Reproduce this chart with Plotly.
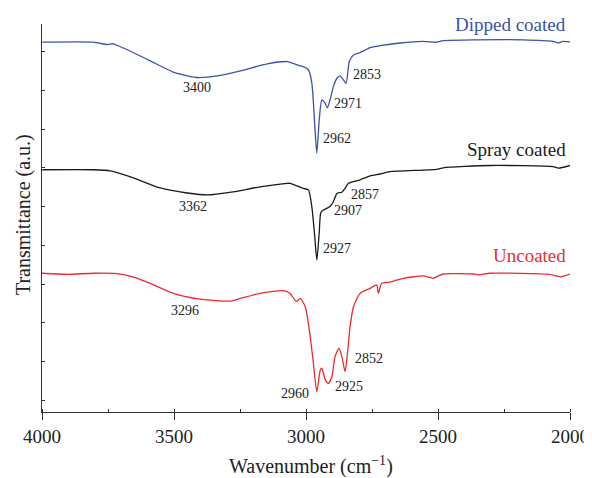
import plotly.graph_objects as go

# ---- data (wavenumber in cm^-1, transmittance in arbitrary units) ----
dip_wn = [3999, 3806, 3753, 3730, 3692, 3590, 3503, 3412, 3336, 3249, 3147, 3071, 3022, 3011,
          2991, 2978, 2965, 2959, 2949, 2940, 2928, 2919, 2909, 2896, 2883, 2871, 2858, 2848,
          2836, 2820, 2795, 2757, 2720, 2644, 2557, 2505, 2480, 2353, 2178, 2064, 2044, 2027, 2000]
dip_t = [92.4, 92.4, 91.8, 92.0, 90.9, 87.6, 84.7, 83.3, 83.7, 85.0, 86.8, 87.4, 86.3, 86.1,
         85.3, 81.9, 69.0, 63.8, 73.1, 77.5, 76.7, 75.5, 77.5, 81.0, 83.1, 83.7, 82.7, 81.8,
         87.4, 89.1, 89.7, 91.0, 91.5, 92.2, 92.6, 92.4, 92.8, 93.0, 93.0, 92.6, 92.2, 92.6, 92.5]

spray_wn = [3999, 3806, 3741, 3654, 3552, 3450, 3374, 3276, 3174, 3071, 3060, 3010, 2991, 2978,
            2968, 2959, 2950, 2944, 2934, 2909, 2896, 2883, 2864, 2852, 2839, 2795, 2757, 2720,
            2682, 2505, 2480, 2303, 2064, 2044, 2000]
spray_t = [59.5, 59.5, 59.2, 57.4, 54.8, 53.5, 53.0, 53.8, 55.1, 56.0, 56.0, 54.7, 54.3, 50.0,
           43.2, 36.2, 43.2, 48.4, 49.1, 50.0, 51.3, 53.4, 53.7, 54.7, 56.0, 56.9, 57.9, 58.4,
           59.0, 59.6, 60.0, 60.6, 60.3, 59.9, 60.6]

unc_wn = [4000, 3905, 3805, 3716, 3653, 3590, 3502, 3401, 3287, 3249, 3174, 3085, 3060, 3037,
          3022, 3003, 2984, 2972, 2959, 2946, 2940, 2927, 2915, 2902, 2890, 2875, 2864, 2852,
          2843, 2833, 2820, 2795, 2757, 2732, 2726, 2713, 2682, 2631, 2555, 2518, 2499, 2480,
          2366, 2347, 2303, 2076, 2038, 2000]
unc_t = [32.8, 32.5, 32.8, 32.7, 31.8, 30.2, 27.6, 26.1, 25.6, 26.3, 27.6, 28.3, 27.6, 25.5,
         26.3, 24.2, 16.4, 9.6, 2.2, 7.8, 8.3, 5.3, 4.4, 6.1, 11.3, 13.4, 11.3, 7.4,
         12.1, 19.0, 24.2, 27.6, 28.9, 29.8, 27.6, 30.2, 30.5, 31.5, 32.1, 31.5, 32.1, 32.6,
         32.6, 32.4, 32.8, 32.5, 31.9, 32.6]

x_ticks = [4000, 3500, 3000, 2500, 2000]
y_ticks = [0, 10, 20, 30, 40, 50, 60, 70, 80, 90]

peak_labels = ["3400", "3362", "3296", "2853", "2971", "2962", "2857", "2907", "2927",
               "2852", "2925", "2960"]
peak_x = [3412, 3427, 3457, 2768, 2840, 2884, 2776, 2840, 2884, 2761, 2837, 3041]
peak_y = [80.6, 49.9, 23.3, 84.2, 76.5, 67.5, 53.0, 48.9, 39.3, 10.9, 3.7, 1.9]

series_names = ["Dipped coated", "Spray coated", "Uncoated"]
name_y = [97.1, 64.6, 37.5]
colors = ["#3a52a8", "#1a1a1a", "#ee2a2a"]

x_title = "Wavenumber (cm<sup>−1</sup>)"
y_title = "Transmittance (a.u.)"

SERIF = "Liberation Serif, Times New Roman, serif"

fig = go.Figure()
for wn, t, c, n in [(dip_wn, dip_t, colors[0], series_names[0]),
                    (spray_wn, spray_t, colors[1], series_names[1]),
                    (unc_wn, unc_t, colors[2], series_names[2])]:
    fig.add_trace(go.Scatter(x=wn, y=t, mode="lines", name=n,
                             line=dict(color=c, width=1.3, shape="spline", smoothing=0.6)))

for txt, x, y in zip(peak_labels, peak_x, peak_y):
    fig.add_annotation(x=x, y=y, text=txt, showarrow=False,
                       font=dict(family=SERIF, size=14, color="#222"))

for n, y, c in zip(series_names, name_y, colors):
    fig.add_annotation(x=2008, y=y, text=n, showarrow=False, xanchor="right",
                       font=dict(family=SERIF, size=19, color=c))

# axis titles as paper-anchored annotations
fig.add_annotation(xref="paper", yref="paper", x=0.509, y=-0.139, text=x_title,
                   xanchor="center", yanchor="middle",
                   showarrow=False, font=dict(family=SERIF, size=20, color="#222"))
fig.add_annotation(xref="paper", yref="paper", x=-0.036, y=0.51, text=y_title,
                   xanchor="center", yanchor="middle",
                   textangle=-90, showarrow=False, font=dict(family=SERIF, size=20, color="#222"))

# page body has an 8px margin, so the figure is sized/margined to compensate
fig.update_layout(
    width=584, height=470,
    margin=dict(l=34, r=22, t=16, b=66, autoexpand=False),
    plot_bgcolor="white", paper_bgcolor="white",
    showlegend=False,
    font=dict(family=SERIF, size=18, color="#222"),
)
fig.update_xaxes(
    range=[4000, 2000], tickvals=x_ticks, ticks="outside", ticklen=7, tickwidth=1.2,
    tickcolor="#333", showline=True, linecolor="#333", linewidth=1.2, showgrid=False,
    zeroline=False, automargin=False, tickfont=dict(family=SERIF, size=19, color="#222"),
    minor=dict(ticks="inside", ticklen=3, tickcolor="#333", dtick=250, showgrid=False),
)
fig.update_yaxes(
    range=[-3, 97.1], tickvals=y_ticks, showticklabels=False, ticks="inside", ticklen=3,
    tickwidth=1.2, tickcolor="#333", showline=True, linecolor="#333", linewidth=1.2,
    showgrid=False, zeroline=False, automargin=False,
)

fig.write_html("out.html")
